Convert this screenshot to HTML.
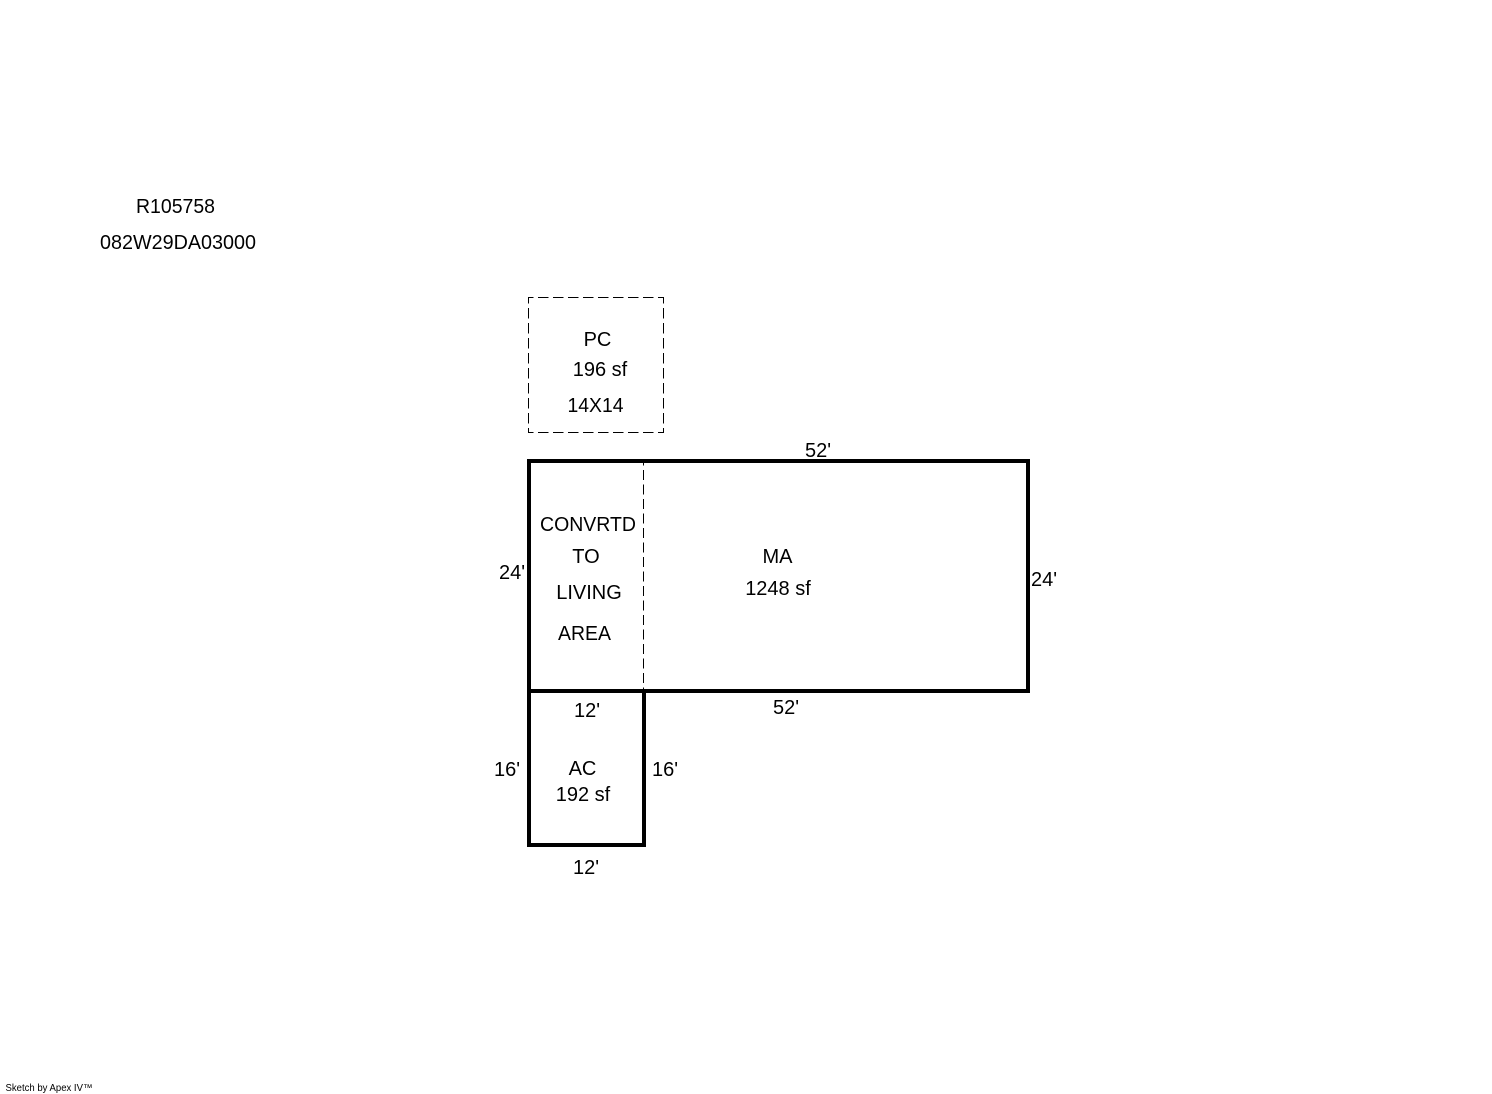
<!DOCTYPE html>
<html>
<head>
<meta charset="utf-8">
<style>
html,body{margin:0;padding:0;background:#fff;}
svg{display:block;}
text{font-family:"Liberation Sans",Arial,sans-serif;font-size:20px;fill:#000;text-anchor:middle;}
.d{stroke:#000;stroke-width:1;fill:none;}
</style>
</head>
<body>
<svg width="1492" height="1094" viewBox="0 0 1492 1094" xmlns="http://www.w3.org/2000/svg">
<rect x="0" y="0" width="1492" height="1094" fill="#fff"/>
<line class="d" x1="528" y1="297.5" x2="664" y2="297.5" stroke-dasharray="10.5 4.5" stroke-dashoffset="5"/>
<line class="d" x1="528" y1="432.5" x2="664" y2="432.5" stroke-dasharray="10.5 4.5" stroke-dashoffset="5"/>
<line class="d" x1="528.5" y1="297" x2="528.5" y2="433" stroke-dasharray="10.5 4.5" stroke-dashoffset="4"/>
<line class="d" x1="663.5" y1="297" x2="663.5" y2="433" stroke-dasharray="10.5 4.5" stroke-dashoffset="4"/>
<line class="d" x1="643.5" y1="461" x2="643.5" y2="691" stroke-dasharray="10 4.5" stroke-dashoffset="5.5"/>
<rect x="529" y="461" width="499" height="230" fill="none" stroke="#000" stroke-width="4" stroke-linejoin="miter"/>
<rect x="529" y="691" width="115" height="154" fill="none" stroke="#000" stroke-width="4" stroke-linejoin="miter"/>
<text x="175.5" y="213" textLength="79" lengthAdjust="spacingAndGlyphs">R105758</text>
<text x="178" y="249" textLength="156" lengthAdjust="spacingAndGlyphs">082W29DA03000</text>
<text x="597.5" y="346">PC</text>
<text x="600" y="376">196 sf</text>
<text x="595.5" y="412" textLength="56" lengthAdjust="spacingAndGlyphs">14X14</text>
<text x="818" y="457">52'</text>
<text x="588" y="531" textLength="96" lengthAdjust="spacingAndGlyphs">CONVRTD</text>
<text x="586" y="563">TO</text>
<text x="589" y="599">LIVING</text>
<text x="584.5" y="640" textLength="53" lengthAdjust="spacingAndGlyphs">AREA</text>
<text x="777.5" y="563">MA</text>
<text x="778" y="595">1248 sf</text>
<text x="512" y="579">24'</text>
<text x="1044" y="586">24'</text>
<text x="587" y="717">12'</text>
<text x="786" y="714">52'</text>
<text x="507" y="776">16'</text>
<text x="665" y="776">16'</text>
<text x="582.5" y="775">AC</text>
<text x="583" y="801">192 sf</text>
<text x="586" y="874">12'</text>
<text x="49" y="1091" style="font-size:10px" textLength="87" lengthAdjust="spacingAndGlyphs">Sketch by Apex IV™</text>
</svg>
</body>
</html>
